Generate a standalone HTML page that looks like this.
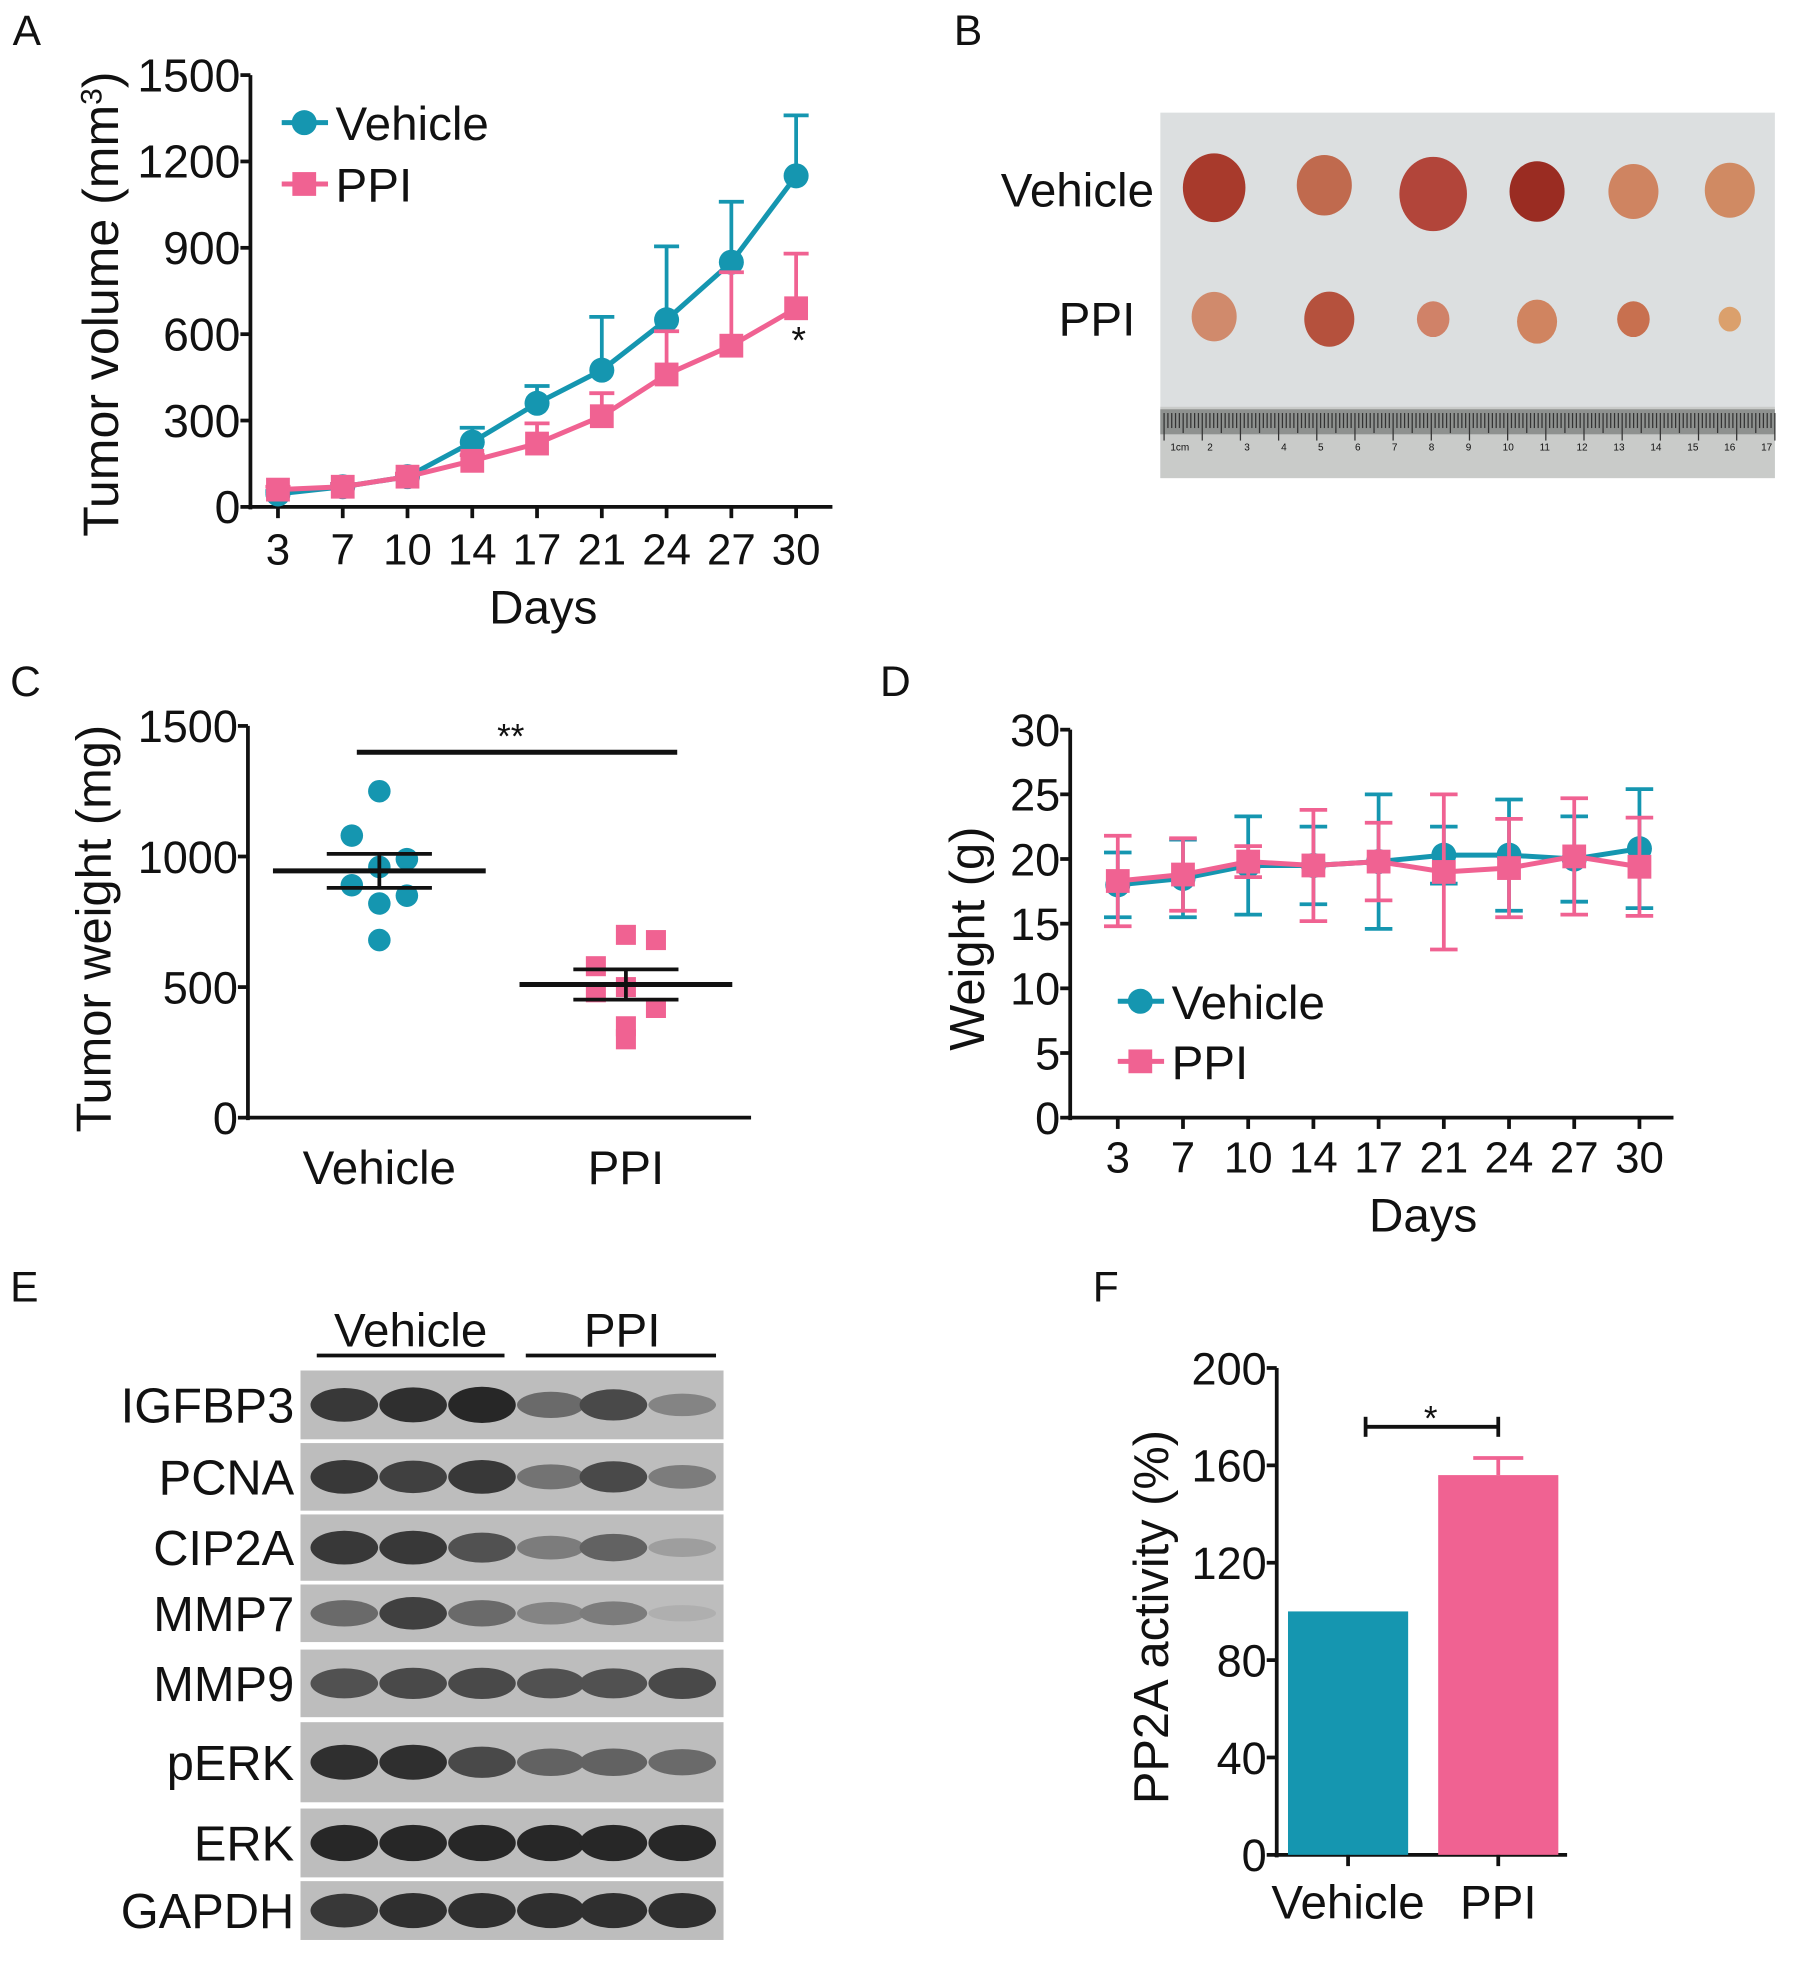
<!DOCTYPE html>
<html><head><meta charset="utf-8"><style>
html,body{margin:0;padding:0;background:#fff}
svg{display:block}
text{font-family:"Liberation Sans",Arial,sans-serif;fill:#111}
</style></head><body>
<svg id="fig" width="1795" height="1970" viewBox="0 0 1434 1574" xmlns="http://www.w3.org/2000/svg">
<g id="gA"></g>
<g id="gB"></g>
<g id="gC"></g>
<g id="gD"></g>
<g id="gE"></g>
<g id="gF"></g>
</svg>
<script>
// ---------- data ----------
const days = [3,7,10,14,17,21,24,27,30];
const volVehicle = [45,70,105,225,360,475,650,850,1150];
const volVehicleErr = [10,10,10,50,60,185,255,210,210];
const volPPI = [60,70,105,160,220,315,460,560,690];
const volPPIErr = [10,10,10,20,70,80,150,255,190];
const volTicks = [0,300,600,900,1200,1500];

const weightVehicle = [1250,1080,990,960,890,850,820,680];
const weightPPI = [700,680,580,500,480,420,350,300];
const weightMeans = [945,510];
const weightSEM = [65,58];
const weightTicks = [0,500,1000,1500];

const bwVehicle = [18,18.5,19.5,19.5,19.8,20.3,20.3,20,20.8];
const bwVehicleErr = [2.5,3,3.8,3,5.2,2.2,4.3,3.3,4.6];
const bwPPI = [18.3,18.8,19.8,19.5,19.8,19,19.3,20.2,19.4];
const bwPPIErr = [3.5,2.8,1.2,4.3,3,6,3.8,4.5,3.8];
const bwTicks = [0,5,10,15,20,25,30];

const blotProteins = ["IGFBP3","PCNA","CIP2A","MMP7","MMP9","pERK","ERK","GAPDH"];
const bandIntensity = [
 [0.85,0.9,0.95,0.55,0.75,0.4],
 [0.85,0.8,0.85,0.5,0.75,0.45],
 [0.85,0.85,0.7,0.45,0.6,0.25],
 [0.55,0.8,0.55,0.4,0.45,0.15],
 [0.7,0.75,0.75,0.7,0.7,0.75],
 [0.9,0.9,0.75,0.6,0.6,0.55],
 [0.95,0.95,0.95,0.95,0.95,0.95],
 [0.85,0.9,0.9,0.9,0.9,0.9]];

const ppaCategories = ["Vehicle","PPI"];
const ppaValues = [100,156];
const ppaErr = [0,7];
const ppaTicks = [0,40,80,120,160,200];

const TEAL="#1596b0", PINK="#f06292";
const NS="http://www.w3.org/2000/svg";
function mk(parent,tag,attrs,txt){const e=document.createElementNS(NS,tag);for(const k in attrs)e.setAttribute(k,attrs[k]);if(txt!==undefined)e.textContent=txt;parent.appendChild(e);return e;}
function lin(d0,d1,r0,r1){return v=>r0+(v-d0)*(r1-r0)/(d1-d0);}

const fig=document.getElementById('fig');
[["A",10,36],["B",762,36],["C",8,556],["D",703,556],["E",8,1040],["F",873,1040]].forEach(l=>{
 const t=mk(fig,'text',{x:l[1],y:l[2],'font-size':34},l[0]);
 
 
});

function yAxis(g,x,y0,y1,ticks,ys,fs){
 mk(g,'line',{x1:x,y1:y0+2,x2:x,y2:y1,stroke:'#111','stroke-width':3});
 ticks.forEach(t=>{mk(g,'line',{x1:x-8,y1:ys(t),x2:x,y2:ys(t),stroke:'#111','stroke-width':3});
  const tx=mk(g,'text',{x:x-8,y:ys(t)+13,'font-size':fs,'text-anchor':'end'},String(t));
  
  });
}
function circle(g,x,y,c,r){mk(g,'circle',{cx:x,cy:y,r:r,fill:c});}
function square(g,x,y,c,s){mk(g,'rect',{x:x-s/2,y:y-s/2,width:s,height:s,fill:c});}
function errBar(g,x,y1,y2,c,w){
 mk(g,'line',{x1:x,y1:y1,x2:x,y2:y2,stroke:c,'stroke-width':3});
 mk(g,'line',{x1:x-w,y1:y2,x2:x+w,y2:y2,stroke:c,'stroke-width':3});
}

// ---------- Panel A ----------
(function(){
 const g=document.getElementById('gA');
 const ys=lin(0,1500,405,60);
 const xs=i=>222+i*51.75;
 yAxis(g,200,405,60,volTicks,ys,37);
 mk(g,'line',{x1:198,y1:405,x2:665,y2:405,stroke:'#111','stroke-width':3});
 days.forEach((d,i)=>{mk(g,'line',{x1:xs(i),y1:405,x2:xs(i),y2:414,stroke:'#111','stroke-width':3});
  const t=mk(g,'text',{x:xs(i),y:451,'font-size':35,'text-anchor':'middle'},String(d));
  
  });
 const xt=mk(g,'text',{x:434,y:498,'font-size':38,'text-anchor':'middle'},'Days');
 
 
 const yt=mk(g,'text',{transform:'translate(94,243) rotate(-90)','font-size':40,'text-anchor':'middle'});
 yt.innerHTML='Tumor volume (mm<tspan dy="-13" font-size="24">3</tspan><tspan dy="13">)</tspan>';
 
 
 [[volVehicle,volVehicleErr,TEAL,'vehicle'],[volPPI,volPPIErr,PINK,'ppi']].forEach(s=>{
  s[0].forEach((v,i)=>errBar(g,xs(i),ys(v),ys(v+s[1][i]),s[2],10));
  const pl=mk(g,'polyline',{points:s[0].map((v,i)=>xs(i)+','+ys(v)).join(' '),fill:'none',stroke:s[2],'stroke-width':4});
  
  
  s[0].forEach((v,i)=>s[3]==='vehicle'?circle(g,xs(i),ys(v),s[2],10):square(g,xs(i),ys(v),s[2],19));
 });
 mk(g,'text',{x:638,y:282,'font-size':30,'text-anchor':'middle'},'*');
 const lg=mk(g,'g',{});
 
 
 mk(lg,'line',{x1:225,y1:98,x2:262,y2:98,stroke:TEAL,'stroke-width':4});circle(lg,243,98,TEAL,10);
 mk(lg,'text',{x:268,y:112,'font-size':38},'Vehicle');
 mk(lg,'line',{x1:225,y1:147,x2:262,y2:147,stroke:PINK,'stroke-width':4});square(lg,243,147,PINK,19);
 mk(lg,'text',{x:268,y:161,'font-size':38},'PPI');
})();

// ---------- Panel B ----------
(function(){
 const g=document.getElementById('gB');
 mk(g,'rect',{x:927,y:90,width:491,height:292,fill:'#dcdfe0'});
 mk(g,'rect',{x:927,y:325,width:491,height:57,fill:'#c9cbc9'});
 mk(g,'rect',{x:927,y:327,width:491,height:20,fill:'#8e918f'});
 for(let i=0;i<=160;i++){const x=930+i*3.05;mk(g,'line',{x1:x,y1:330,x2:x,y2:i%10==0?352:(i%5==0?346:342),stroke:'#333','stroke-width':1});}
 for(let i=1;i<=17;i++){mk(g,'text',{x:935+(i-1)*29.5,y:360,'font-size':8},i==1?'1cm':String(i));}
 const v=[[970,150,25,'#a83a2c'],[1058,148,22,'#c06a4e'],[1145,155,27,'#b2453a'],[1228,153,22,'#9a2c22'],[1305,153,20,'#cf8461'],[1382,152,20,'#d08a63']];
 const p=[[970,253,18,'#d08a6c'],[1062,255,20,'#b5513d'],[1145,255,13,'#d08268'],[1228,257,16,'#d08460'],[1305,255,13,'#c8704f'],[1382,255,9,'#dba06c']];
 v.concat(p).forEach(t=>{const e=mk(g,'ellipse',{cx:t[0],cy:t[1],rx:t[2],ry:t[2]*1.1,fill:t[3]});
  
  });
 mk(g,'text',{x:922,y:165,'font-size':38,'text-anchor':'end'},'Vehicle');
 mk(g,'text',{x:907,y:268,'font-size':38,'text-anchor':'end'},'PPI');
})();

// ---------- Panel C ----------
(function(){
 const g=document.getElementById('gC');
 const ys=lin(0,1500,893,580);
 yAxis(g,198,893,580,weightTicks,ys,36);
 mk(g,'line',{x1:196,y1:893,x2:600,y2:893,stroke:'#111','stroke-width':3});
 const cx=[303,500];
 ["Vehicle","PPI"].forEach((c,i)=>{const t=mk(g,'text',{x:cx[i],y:946,'font-size':38,'text-anchor':'middle'},c);
  
  });
 const yt=mk(g,'text',{transform:'translate(88,742) rotate(-90)','font-size':39,'text-anchor':'middle'},'Tumor weight (mg)');
 
 
 const offV=[0,-22,22,0,-22,22,0,0], offP=[0,24,-24,0,-24,24,0,0];
 weightVehicle.forEach((v,i)=>circle(g,cx[0]+offV[i],ys(v),TEAL,9));
 weightPPI.forEach((v,i)=>square(g,cx[1]+offP[i],ys(v),PINK,16));
 weightMeans.forEach((m,i)=>{
  mk(g,'line',{x1:cx[i]-85,y1:ys(m),x2:cx[i]+85,y2:ys(m),stroke:'#111','stroke-width':4});
  mk(g,'line',{x1:cx[i]-42,y1:ys(m+weightSEM[i]),x2:cx[i]+42,y2:ys(m+weightSEM[i]),stroke:'#111','stroke-width':3});
  mk(g,'line',{x1:cx[i]-42,y1:ys(m-weightSEM[i]),x2:cx[i]+42,y2:ys(m-weightSEM[i]),stroke:'#111','stroke-width':3});
  mk(g,'line',{x1:cx[i],y1:ys(m+weightSEM[i]),x2:cx[i],y2:ys(m-weightSEM[i]),stroke:'#111','stroke-width':3});
 });
 mk(g,'line',{x1:285,y1:601,x2:541,y2:601,stroke:'#111','stroke-width':4});
 mk(g,'text',{x:408,y:598,'font-size':28,'text-anchor':'middle'},'**');
})();

// ---------- Panel D ----------
(function(){
 const g=document.getElementById('gD');
 const ys=lin(0,30,893,583);
 const xs=i=>893+i*52.1;
 yAxis(g,855,893,583,bwTicks,ys,36);
 mk(g,'line',{x1:853,y1:893,x2:1337,y2:893,stroke:'#111','stroke-width':3});
 days.forEach((d,i)=>{mk(g,'line',{x1:xs(i),y1:893,x2:xs(i),y2:902,stroke:'#111','stroke-width':3});
  const t=mk(g,'text',{x:xs(i),y:937,'font-size':35,'text-anchor':'middle'},String(d));
  
  });
 const xt=mk(g,'text',{x:1137,y:984,'font-size':38,'text-anchor':'middle'},'Days');
 
 
 const yt=mk(g,'text',{transform:'translate(786,750) rotate(-90)','font-size':39,'text-anchor':'middle'},'Weight (g)');
 
 
 [[bwVehicle,bwVehicleErr,TEAL,'vehicle'],[bwPPI,bwPPIErr,PINK,'ppi']].forEach(s=>{
  s[0].forEach((v,i)=>{const x=xs(i);
   mk(g,'line',{x1:x,y1:ys(v-s[1][i]),x2:x,y2:ys(v+s[1][i]),stroke:s[2],'stroke-width':3});
   mk(g,'line',{x1:x-11,y1:ys(v+s[1][i]),x2:x+11,y2:ys(v+s[1][i]),stroke:s[2],'stroke-width':3});
   mk(g,'line',{x1:x-11,y1:ys(v-s[1][i]),x2:x+11,y2:ys(v-s[1][i]),stroke:s[2],'stroke-width':3});});
  const pl=mk(g,'polyline',{points:s[0].map((v,i)=>xs(i)+','+ys(v)).join(' '),fill:'none',stroke:s[2],'stroke-width':4});
  
  
  s[0].forEach((v,i)=>s[3]==='vehicle'?circle(g,xs(i),ys(v),s[2],10):square(g,xs(i),ys(v),s[2],19));
 });
 const lg=mk(g,'g',{});
 
 
 mk(lg,'line',{x1:893,y1:800,x2:930,y2:800,stroke:TEAL,'stroke-width':4});circle(lg,911,800,TEAL,10);
 mk(lg,'text',{x:936,y:814,'font-size':38},'Vehicle');
 mk(lg,'line',{x1:893,y1:848,x2:930,y2:848,stroke:PINK,'stroke-width':4});square(lg,911,848,PINK,19);
 mk(lg,'text',{x:936,y:862,'font-size':38},'PPI');
})();

// ---------- Panel E ----------
(function(){
 const g=document.getElementById('gE');
 const rows=[[1095,1150],[1153,1207],[1210,1263],[1266,1312],[1318,1372],[1376,1440],[1445,1500],[1503,1550]];
 const lanes=[275,330,385,440,490,545];
 mk(g,'text',{x:328,y:1076,'font-size':38,'text-anchor':'middle'},'Vehicle');
 mk(g,'line',{x1:253,y1:1083,x2:403,y2:1083,stroke:'#111','stroke-width':3});
 mk(g,'text',{x:497,y:1076,'font-size':38,'text-anchor':'middle'},'PPI');
 mk(g,'line',{x1:420,y1:1083,x2:572,y2:1083,stroke:'#111','stroke-width':3});
 blotProteins.forEach((p,r)=>{
  const [y0,y1]=rows[r];const cy=(y0+y1)/2;
  const row=mk(g,'g',{});
  
  
  mk(row,'rect',{x:240,y:y0,width:338,height:y1-y0,fill:'#bdbdbd'});
  bandIntensity[r].forEach((v,i)=>{
   const s=Math.round(200-v*170);
   mk(row,'ellipse',{cx:lanes[i],cy:cy,rx:27,ry:5+v*10,fill:'rgb('+s+','+s+','+s+')'});
  });
  mk(g,'text',{x:235,y:cy+14,'font-size':39,'text-anchor':'end'},p);
 });
})();

// ---------- Panel F ----------
(function(){
 const g=document.getElementById('gF');
 const ys=lin(0,200,1482,1093);
 yAxis(g,1020,1482,1093,ppaTicks,ys,36);
 mk(g,'line',{x1:1018,y1:1482,x2:1252,y2:1482,stroke:'#111','stroke-width':3});
 const cx=[1077,1197], cols=[TEAL,PINK];
 ppaValues.forEach((v,i)=>{
  const b=mk(g,'rect',{x:cx[i]-48,y:ys(v),width:96,height:1482-ys(v),fill:cols[i]});
  
  
  if(ppaErr[i]>0) errBar(g,cx[i],ys(v),ys(v+ppaErr[i]),cols[i],20);
  mk(g,'line',{x1:cx[i],y1:1482,x2:cx[i],y2:1491,stroke:'#111','stroke-width':3});
  const t=mk(g,'text',{x:cx[i],y:1533,'font-size':38,'text-anchor':'middle'},ppaCategories[i]);
  
  
 });
 const yt=mk(g,'text',{transform:'translate(933,1292) rotate(-90)','font-size':39,'text-anchor':'middle'},'PP2A activity (%)');
 
 
 mk(g,'line',{x1:1091,y1:1140,x2:1197,y2:1140,stroke:'#111','stroke-width':3});
 mk(g,'line',{x1:1091,y1:1132,x2:1091,y2:1148,stroke:'#111','stroke-width':3});
 mk(g,'line',{x1:1197,y1:1132,x2:1197,y2:1148,stroke:'#111','stroke-width':3});
 mk(g,'text',{x:1143,y:1143,'font-size':28,'text-anchor':'middle'},'*');
})();
</script>
</body></html>
